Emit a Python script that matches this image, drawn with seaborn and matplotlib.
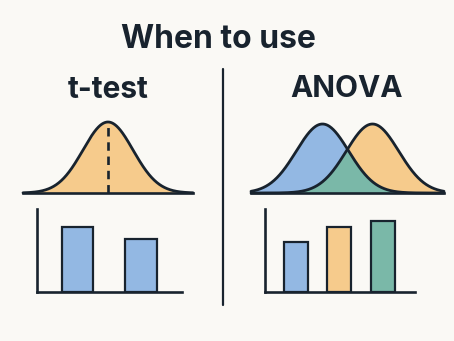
import numpy as np
import pandas as pd
import seaborn as sns
import matplotlib.pyplot as plt
from matplotlib.lines import Line2D

# ---- data ----
title = "When to use"
panel_titles = ["t-test", "ANOVA"]
ttest_mean = [0.0]
ttest_sd = [1.0]
anova_means = [-1.0, 1.0]
anova_sds = [1.05, 1.05]
ttest_groups = ["A", "B"]
ttest_values = [0.78, 0.64]
anova_groups = ["A", "B", "C"]
anova_values = [0.60, 0.78, 0.855]

# ---- style ----
BG = "#faf9f5"
DARK = "#18232e"
BLUE = "#93b8e3"
ORANGE = "#f6cb8c"
GREEN = "#7ab8a8"

sns.set_theme(style="white")
plt.rcParams["font.family"] = ["Inter", "DejaVu Sans"]

W, H = 454, 341
fig = plt.figure(figsize=(W / 100, H / 100), dpi=100, facecolor=BG)


def rect(x0, y0, x1, y1):
    """pixel box (top-left origin) -> figure fraction rect"""
    return [x0 / W, (H - y1) / H, (x1 - x0) / W, (y1 - y0) / H]


def pdf(x, m, s):
    return np.exp(-0.5 * ((x - m) / s) ** 2) / (s * np.sqrt(2 * np.pi))


def style_axes(ax, left=False):
    ax.set_facecolor("none")
    for side in ["top", "right", "left", "bottom"]:
        ax.spines[side].set_visible(False)
    ax.spines["bottom"].set_visible(True)
    ax.spines["bottom"].set_color(DARK)
    ax.spines["bottom"].set_linewidth(1.9)
    if left:
        ax.spines["left"].set_visible(True)
        ax.spines["left"].set_color(DARK)
        ax.spines["left"].set_linewidth(1.9)
    ax.set_xticks([])
    ax.set_yticks([])
    ax.set_xlabel("")
    ax.set_ylabel("")


# ---- text ----
fig.text(218.5 / W, (H - 48) / H, title, ha="center", va="baseline",
         fontsize=23, fontweight="bold", color=DARK)
fig.text(108.5 / W, (H - 98) / H, panel_titles[0], ha="center", va="baseline",
         fontsize=21.5, fontweight="bold", color=DARK)
fig.text(347 / W, (H - 97) / H, panel_titles[1], ha="center", va="baseline",
         fontsize=21.5, fontweight="bold", color=DARK)

# divider
fig.add_artist(Line2D([223 / W, 223 / W], [(H - 69) / H, (H - 305) / H],
                      color=DARK, lw=1.6, transform=fig.transFigure))

# ---- t-test distribution ----
ax1 = fig.add_axes(rect(23, 122, 193, 193))
xs = np.linspace(-3.4, 3.4, 400)
y1 = pdf(xs, ttest_mean[0], ttest_sd[0])
ax1.fill_between(xs, 0, y1, color=ORANGE, lw=0)
sns.lineplot(x=xs, y=y1, ax=ax1, color=DARK, lw=2.0, clip_on=False)
peak = pdf(ttest_mean[0], ttest_mean[0], ttest_sd[0])
ax1.plot([ttest_mean[0], ttest_mean[0]], [0, peak], color=DARK, lw=1.9,
         dashes=(3.2, 2.2), clip_on=False)
ax1.set_xlim(-3.4, 3.4)
ax1.set_ylim(0, peak)
style_axes(ax1)

# ---- ANOVA distributions ----
ax2 = fig.add_axes(rect(251, 124, 444, 193))
xs2 = np.linspace(-3.86, 3.86, 500)
ya = pdf(xs2, anova_means[0], anova_sds[0])
yb = pdf(xs2, anova_means[1], anova_sds[1])
ax2.fill_between(xs2, 0, ya, color=BLUE, lw=0)
ax2.fill_between(xs2, 0, yb, color=ORANGE, lw=0)
ax2.fill_between(xs2, 0, np.minimum(ya, yb), color=GREEN, lw=0)
sns.lineplot(x=xs2, y=ya, ax=ax2, color=DARK, lw=2.0, clip_on=False)
sns.lineplot(x=xs2, y=yb, ax=ax2, color=DARK, lw=2.0, clip_on=False)
ax2.set_xlim(-3.86, 3.86)
ax2.set_ylim(0, max(ya.max(), yb.max()))
style_axes(ax2)

# ---- t-test bars ----
ax3 = fig.add_axes(rect(37, 209, 182, 292))
df1 = pd.DataFrame({"g": ttest_groups, "v": ttest_values})
sns.barplot(data=df1, x="g", y="v", hue="g", palette=[BLUE, BLUE],
            legend=False, ax=ax3, width=0.49, edgecolor=DARK, linewidth=1.6,
            saturation=1)
ax3.set_xlim(-0.638, 1.646)
ax3.set_ylim(0, 1)
style_axes(ax3, left=True)

# ---- ANOVA bars ----
ax4 = fig.add_axes(rect(265, 209, 415, 292))
df2 = pd.DataFrame({"g": anova_groups, "v": anova_values})
sns.barplot(data=df2, x="g", y="v", hue="g", palette=[BLUE, ORANGE, GREEN],
            legend=False, ax=ax4, width=0.55, edgecolor=DARK, linewidth=1.6,
            saturation=1)
ax4.set_xlim(-0.71, 2.74)
ax4.set_ylim(0, 1)
style_axes(ax4, left=True)

fig.savefig("out.png", dpi=100, facecolor=BG)
